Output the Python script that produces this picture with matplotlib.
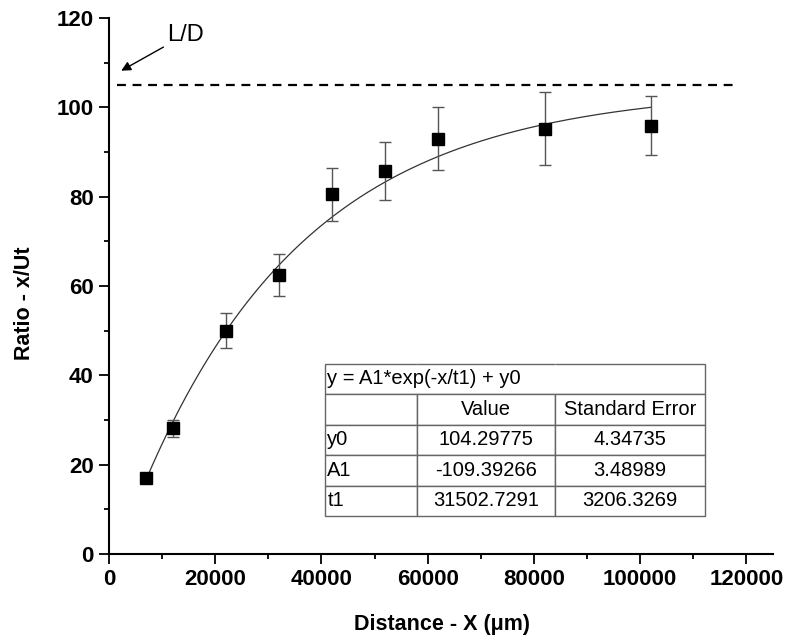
import numpy as np
import matplotlib
matplotlib.use("Agg")
import matplotlib.pyplot as plt
from matplotlib.ticker import MultipleLocator

plt.rcParams["font.family"] = ["Liberation Sans", "DejaVu Sans"]

# measured points (distance in um, ratio x/Ut, error)
distance = [7000, 12000, 22000, 32000, 42000, 52000, 62000, 82000, 102000]
ratio = [17.0, 28.2, 50.0, 62.5, 80.5, 85.8, 93.0, 95.2, 95.9]
ratio_err = [0.0, 1.9, 3.9, 4.7, 6.0, 6.5, 7.1, 8.2, 6.6]

# exponential fit parameters (from the inset table)
fit_name = "y = A1*exp(-x/t1) + y0"
param_names = ["y0", "A1", "t1"]
param_values = ["104.29775", "-109.39266", "31502.7291"]
param_errors = ["4.34735", "3.48989", "3206.3269"]
y0, A1, t1 = (float(v) for v in param_values)

ld_level = 105

fig = plt.figure(figsize=(7.87, 6.41), dpi=100)
ax = fig.add_axes([0.1385, 0.1357, 0.8437, 0.8362])

# fitted curve
xf = np.linspace(distance[0], distance[-1], 300)
ax.plot(xf, A1 * np.exp(-xf / t1) + y0, color="#333333", lw=0.9, zorder=2)

# data with error bars
ax.errorbar(distance, ratio, yerr=ratio_err, fmt="s", color="black",
            markersize=8, ecolor="#555555", elinewidth=1.0, capsize=4,
            capthick=1.0, zorder=3)

# L/D level
ax.plot([1500, 118000], [ld_level, ld_level], "--", color="black", lw=1.6,
        dashes=(4, 3), zorder=1)
ax.annotate("L/D", xy=(2300, 108.2), xytext=(11000, 116.3),
            fontsize=17, va="center", ha="left",
            arrowprops=dict(arrowstyle="-|>", color="black", lw=1.0,
                            mutation_scale=14, shrinkA=1, shrinkB=0))

ax.set_xlim(0, 125000)
ax.set_ylim(0, 120)
ax.xaxis.set_major_locator(MultipleLocator(20000))
ax.xaxis.set_minor_locator(MultipleLocator(10000))
ax.yaxis.set_major_locator(MultipleLocator(20))
ax.yaxis.set_minor_locator(MultipleLocator(10))
ax.spines["top"].set_visible(False)
ax.spines["right"].set_visible(False)
for s in ("left", "bottom"):
    ax.spines[s].set_linewidth(1.5)
ax.tick_params(which="major", direction="out", length=7, width=1.3,
               labelsize=16, pad=4)
ax.tick_params(which="minor", direction="out", length=3.6, width=1.3)
for lbl in ax.get_xticklabels() + ax.get_yticklabels():
    lbl.set_fontweight("bold")

ax.set_xlabel("Distance - X (\u03bcm)", fontsize=15.5, fontweight="bold")
ax.set_ylabel("Ratio - x/Ut", fontsize=15.5, fontweight="bold")
ax.xaxis.set_label_coords(0.5015, -0.112)
ax.yaxis.set_label_coords(-0.112, 0.468)

# inset table with fit results
cells = [[fit_name, "", ""], ["", "Value", "Standard Error"]]
for n, v, e in zip(param_names, param_values, param_errors):
    cells.append([n, v, e])
tbl = ax.table(cellText=cells, colWidths=[0.242, 0.363, 0.395],
               bbox=[0.326, 0.071, 0.572, 0.284], cellLoc="center")
tbl.auto_set_font_size(False)
tbl.set_fontsize(14.5)
for (r, c), cell in tbl.get_celld().items():
    cell.set_edgecolor("#666666")
    cell.set_linewidth(1.0)
    if c == 0:
        cell.get_text().set_ha("left")
        cell.PAD = 0.02
    if r == 0:
        cell.visible_edges = {0: "BTL", 1: "BT", 2: "BTR"}[c]

fig.savefig("out.png", dpi=100)
